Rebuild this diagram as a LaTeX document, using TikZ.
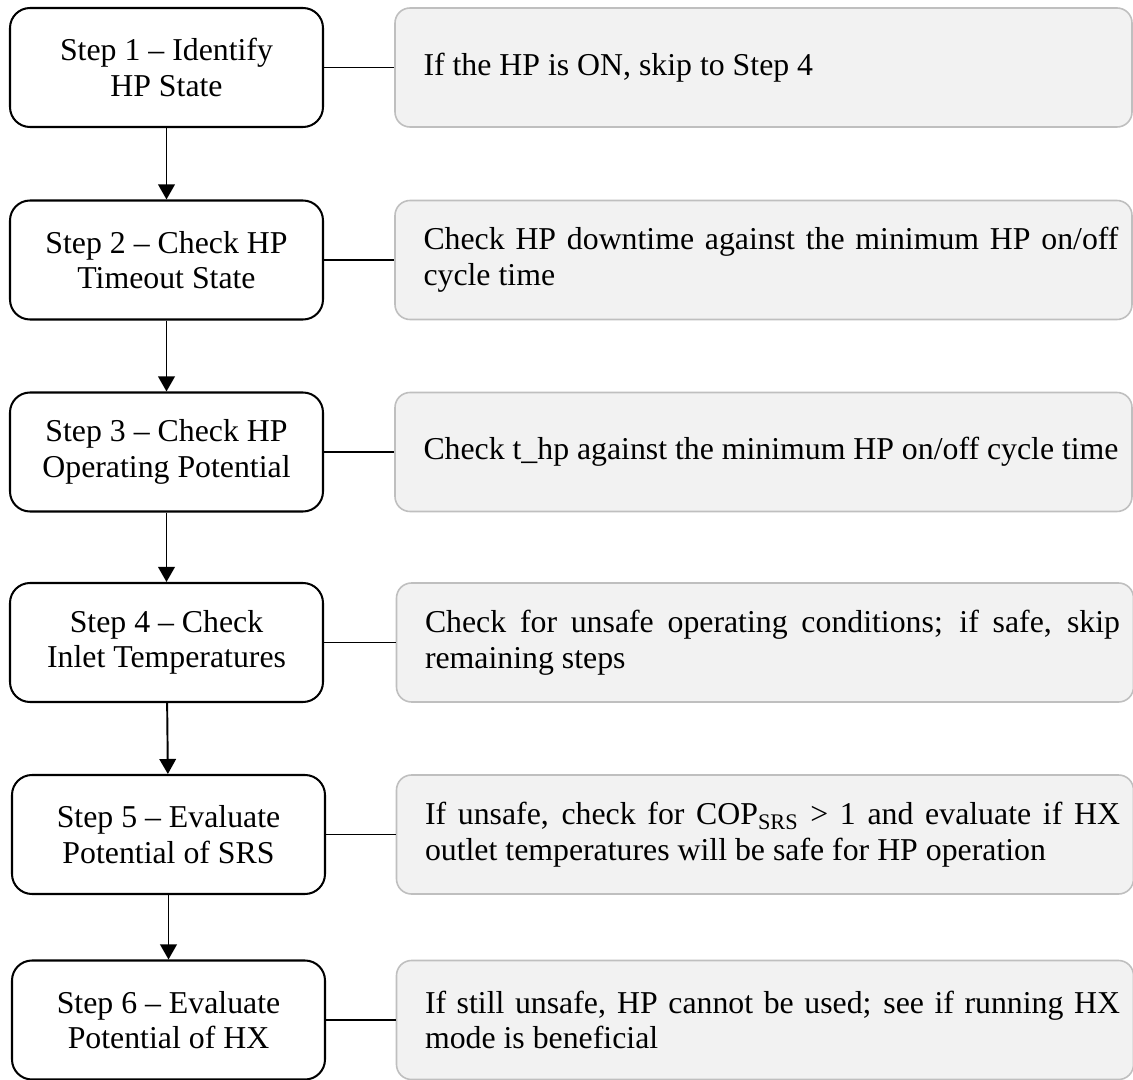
\documentclass[tikz,border=0pt]{standalone}
\usepackage{fontspec}
\setmainfont{Liberation Serif}
\usepackage{xcolor}
\usetikzlibrary{arrows.meta}
\definecolor{NoteFill}{HTML}{F2F2F2}
\definecolor{NoteLine}{HTML}{BFBFBF}
\definecolor{Ink}{HTML}{000000}
\newcommand{\notetext}[1]{\leftskip=0.3cm\hyphenpenalty=10000\exhyphenpenalty=10000\relax #1\par}

\begin{document}
\begin{tikzpicture}[every node/.style={text=Ink,font=\fontsize{18.1}{20.3}\selectfont},stepbox/.style={rounded corners=0.4cm,draw=Ink,line width=1.15pt,fill=white,minimum width=6.26cm,minimum height=2.38cm,align=center,inner sep=0pt},notebox/.style={rounded corners=0.3cm,draw=NoteLine,line width=0.9pt,fill=NoteFill,minimum height=2.38cm,text width=14.2cm,inner xsep=0.27cm,inner ysep=0pt,align=justify},arrowstyle/.style={-{Triangle[length=3mm,width=3.3mm]},line width=1.1pt,draw=Ink},linkline/.style={line width=1.1pt,draw=Ink}]
\useasboundingbox[fill=white] (0,0) rectangle (22.66,-21.6);
\node[stepbox] (s1) at (3.33,-1.35) {Step 1 -- Identify\\HP State};
\node[stepbox] (s2) at (3.33,-5.2) {Step 2 -- Check HP\\Timeout State};
\node[stepbox] (s3) at (3.33,-9.04) {Step 3 -- Check HP\\Operating Potential};
\node[stepbox] (s4) at (3.33,-12.85) {Step 4 -- Check\\Inlet Temperatures};
\node[stepbox] (s5) at (3.37,-16.69) {Step 5 -- Evaluate\\Potential of SRS};
\node[stepbox] (s6) at (3.37,-20.4) {Step 6 -- Evaluate\\Potential of HX};
\node[notebox] (n1) at (15.27,-1.35) {\notetext{If the HP is ON, skip to Step 4}};
\node[notebox] (n2) at (15.27,-5.2) {\notetext{Check HP downtime against the minimum HP on/off cycle time}};
\node[notebox] (n3) at (15.27,-9.04) {\notetext{Check t\_hp against the minimum HP on/off cycle time}};
\node[notebox] (n4) at (15.3,-12.85) {\notetext{Check for unsafe operating conditions; if safe, skip remaining steps}};
\node[notebox] (n5) at (15.3,-16.69) {\notetext{If unsafe, check for COP\textsubscript{SRS} > 1 and evaluate if HX outlet temperatures will be safe for HP operation}};
\node[notebox] (n6) at (15.3,-20.4) {\notetext{If still unsafe, HP cannot be used; see if running HX mode is beneficial}};
\draw[arrowstyle] (s1) -- (s2);
\draw[arrowstyle] (s2) -- (s3);
\draw[arrowstyle] (s3) -- (s4);
\draw[arrowstyle] (s4) -- (s5);
\draw[arrowstyle] (s5) -- (s6);
\draw[linkline] (s1) -- (n1);
\draw[linkline] (s2) -- (n2);
\draw[linkline] (s3) -- (n3);
\draw[linkline] (s4) -- (n4);
\draw[linkline] (s5) -- (n5);
\draw[linkline] (s6) -- (n6);
\end{tikzpicture}
\end{document}
